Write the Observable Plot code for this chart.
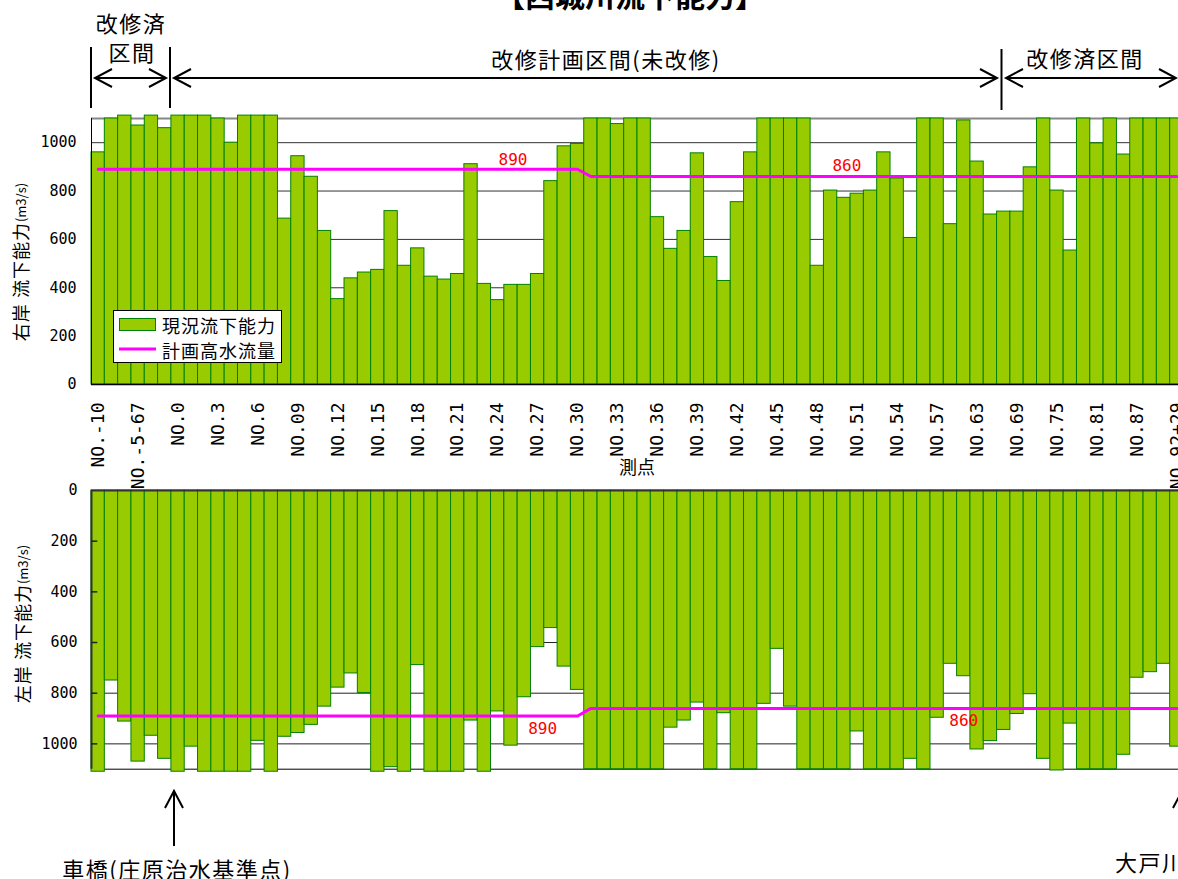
<!DOCTYPE html>
<html>
<head>
<meta charset="utf-8">
<script src="https://cdn.jsdelivr.net/npm/d3@7"></script>
<script src="https://cdn.jsdelivr.net/npm/@observablehq/plot@0.6"></script>
<style>
  html, body { margin: 0; padding: 0; background: #fff; overflow: hidden; }
  #page { position: relative; width: 1178px; height: 879px; overflow: hidden; background: #fff; }
  #page > svg { position: absolute; left: 0; max-width: none !important; overflow: visible; }
</style>
</head>
<body>
<div id="page"></div>
<script>
// Survey stations along the river (upstream order, left to right)
const stations = [
  "NO.-10","NO.-9","NO.-8","NO.-5-67","NO.-4","NO.-2",
  "NO.0","NO.1","NO.2","NO.3","NO.4","NO.5","NO.6","NO.07","NO.08","NO.09",
  "NO.10","NO.11","NO.12","NO.13","NO.14","NO.15","NO.16","NO.17","NO.18","NO.19",
  "NO.20","NO.21","NO.22","NO.23","NO.24","NO.25","NO.26","NO.27","NO.28","NO.29",
  "NO.30","NO.31","NO.32","NO.33","NO.34","NO.35","NO.36","NO.37","NO.38","NO.39",
  "NO.40","NO.41","NO.42","NO.43","NO.44","NO.45","NO.46","NO.47","NO.48","NO.49",
  "NO.50","NO.51","NO.52","NO.53","NO.54","NO.55","NO.56","NO.57",
  "NO.59","NO.61","NO.63","NO.65","NO.67","NO.69","NO.71","NO.73","NO.75","NO.77",
  "NO.79","NO.81","NO.83","NO.85","NO.87","NO.89","NO.91","NO.92+29"
];

// Stations that get a tick label on the horizontal axis
const labeledStations = [
  "NO.-10","NO.-5-67","NO.0","NO.3","NO.6","NO.09","NO.12","NO.15","NO.18","NO.21",
  "NO.24","NO.27","NO.30","NO.33","NO.36","NO.39","NO.42","NO.45","NO.48","NO.51",
  "NO.54","NO.57","NO.63","NO.69","NO.75","NO.81","NO.87","NO.92+29"
];

// Current flow capacity, right bank (m3/s)
const rightBank = [
  960, 1100, 1112, 1071, 1112, 1060, 1112, 1112, 1112, 1100,
  1000, 1112, 1112, 1112, 686, 944, 859, 635, 353, 439,
  463, 474, 717, 491, 563, 446, 434, 457, 911, 416,
  349, 412, 412, 457, 841, 985, 995, 1100, 1100, 1077,
  1100, 1100, 692, 561, 635, 956, 527, 428, 754, 960,
  1100, 1100, 1100, 1100, 491, 802, 772, 789, 802, 960,
  852, 606, 1100, 1100, 663, 1092, 922, 703, 715, 715,
  898, 1100, 802, 554, 1100, 997, 1100, 951, 1100, 1100,
  1100, 1100
];

// Current flow capacity, left bank (m3/s)
const leftBank = [
  1110, 750, 912, 1070, 968, 1059, 1110, 1011, 1110, 1110,
  1110, 1110, 988, 1110, 972, 957, 925, 853, 778, 722,
  799, 1110, 1092, 1110, 689, 1110, 1110, 1110, 908, 1110,
  872, 1007, 816, 618, 543, 695, 787, 1100, 1100, 1100,
  1100, 1100, 1100, 936, 908, 837, 1100, 879, 1100, 1100,
  842, 625, 853, 1100, 1100, 1100, 1100, 951, 1100, 1100,
  1100, 1059, 1100, 897, 684, 733, 1022, 989, 945, 882,
  804, 1059, 1105, 920, 1100, 1100, 1100, 1043, 739, 717,
  684, 1011
];

// Design high-water discharge (m3/s)
const planFlow = [
  890, 890, 890, 890, 890, 890, 890, 890, 890, 890,
  890, 890, 890, 890, 890, 890, 890, 890, 890, 890,
  890, 890, 890, 890, 890, 890, 890, 890, 890, 890,
  890, 890, 890, 890, 890, 890, 890, 860, 860, 860,
  860, 860, 860, 860, 860, 860, 860, 860, 860, 860,
  860, 860, 860, 860, 860, 860, 860, 860, 860, 860,
  860, 860, 860, 860, 860, 860, 860, 860, 860, 860,
  860, 860, 860, 860, 860, 860, 860, 860, 860, 860,
  860, 860
];

const yTicks = [0, 200, 400, 600, 800, 1000];
const gridTicks = [200, 400, 600, 800, 1000];

const rows = stations.map((s, i) => ({
  station: s, right: rightBank[i], left: leftBank[i], plan: planFlow[i]
}));
const planAt = (i) => ({station: stations[i], value: planFlow[i]});

const BAR_FILL = "#99cc00";
const BAR_STROKE = "#008000";
const PLAN_COLOR = "#ff00ff";
const NUM_FONT = "'DejaVu Sans Mono', monospace";
const JP_FONT = "'Noto Sans CJK JP', sans-serif";

const WIDTH = 1184, ML = 91, MR = 1;
const bandW = (WIDTH - ML - MR) / stations.length;
const plain = d => String(d);

const page = document.getElementById("page");

// ---- Right bank panel ----
const rightChart = Plot.plot({
  width: WIDTH, height: 480,
  marginLeft: ML, marginRight: MR, marginTop: 118, marginBottom: 96,
  style: {fontFamily: NUM_FONT, color: "#000", background: "transparent", overflow: "visible"},
  x: {type: "band", domain: stations, padding: 0, round: false},
  y: {domain: [0, 1100]},
  marks: [
    Plot.ruleY(gridTicks, {stroke: "#333", strokeWidth: 1}),
    Plot.ruleY([1100], {stroke: "#888", strokeWidth: 2}),
    Plot.barY(rows, {x: "station", y: "right", fill: BAR_FILL, stroke: BAR_STROKE, strokeWidth: 1}),
    Plot.line(rows, {x: "station", y: "plan", stroke: PLAN_COLOR, strokeWidth: 3}),
    Plot.text([planAt(31)], {x: "station", y: "value", text: d => String(d.value), fill: "#ff0000", fontSize: 16, dx: 2, dy: -9}),
    Plot.text([planAt(56)], {x: "station", y: "value", text: d => String(d.value), fill: "#ff0000", fontSize: 16, dx: 3, dy: -11}),
    Plot.ruleY([0], {stroke: "#000", strokeWidth: 1.5}),
    Plot.ruleX([stations[0]], {dx: -bandW / 2, stroke: "#000", strokeWidth: 1}),
    Plot.axisX({ticks: labeledStations, tickRotate: -90, tickSize: 0, tickPadding: 18, fontSize: 18, label: null}),
    Plot.axisY({ticks: yTicks, tickFormat: plain, tickSize: 0, tickPadding: 15, fontSize: 15, label: null})
  ]
});
rightChart.style.top = "0px";
page.appendChild(rightChart);

// ---- Left bank panel (hanging bars) ----
const leftChart = Plot.plot({
  width: WIDTH, height: 399,
  marginLeft: ML, marginRight: MR, marginTop: 10, marginBottom: 110.3,
  style: {fontFamily: NUM_FONT, color: "#000", background: "transparent", overflow: "visible"},
  x: {type: "band", domain: stations, padding: 0, round: false, axis: null},
  y: {domain: [0, 1100], reverse: true},
  marks: [
    Plot.ruleY(gridTicks, {stroke: "#222", strokeWidth: 1}),
    Plot.ruleY([1100], {stroke: "#000", strokeWidth: 1}),
    Plot.barY(rows, {x: "station", y: "left", fill: BAR_FILL, stroke: BAR_STROKE, strokeWidth: 1}),
    Plot.line(rows, {x: "station", y: "plan", stroke: PLAN_COLOR, strokeWidth: 3}),
    Plot.text([planAt(33)], {x: "station", y: "value", text: d => String(d.value), fill: "#ff0000", fontSize: 16, dx: 5, dy: 13}),
    Plot.text([planAt(65)], {x: "station", y: "value", text: d => String(d.value), fill: "#ff0000", fontSize: 16, dx: 0, dy: 12}),
    Plot.ruleY([0], {stroke: "#333", strokeWidth: 2}),
    Plot.ruleX([stations[0]], {dx: -bandW / 2, stroke: "#333", strokeWidth: 2}),
    Plot.tickY(gridTicks, {x: () => stations[0], insetRight: 7, stroke: "#222", strokeWidth: 1.5}),
    Plot.axisY({ticks: yTicks, tickFormat: plain, tickSize: 0, tickPadding: 14, fontSize: 15, label: null})
  ]
});
leftChart.style.top = "480px";
page.appendChild(leftChart);

// ---- Titles, section arrows, legend and notes ----
const ov = d3.select(page).append("svg")
  .attr("width", 1178).attr("height", 879)
  .style("top", "0px")
  .style("font-family", JP_FONT);

ov.append("text").attr("x", 630).attr("y", 7).attr("text-anchor", "middle")
  .attr("font-size", 30).attr("font-weight", "bold").text("【西城川流下能力】");

const ink = ov.append("g").attr("stroke", "#000").attr("stroke-width", 2).attr("fill", "none");
const vline = (x, y1, y2) => ink.append("path").attr("d", `M${x},${y1}V${y2}`);
const harrow = (x1, x2, y) => ink.append("path").attr("d",
  `M${x1},${y}H${x2}M${x1 + 17},${y - 9}L${x1},${y}L${x1 + 17},${y + 9}M${x2 - 17},${y - 9}L${x2},${y}L${x2 - 17},${y + 9}`);
const varrow = (x, yTip, yEnd) => ink.append("path").attr("d",
  `M${x},${yTip}V${yEnd}M${x - 9},${yTip + 17}L${x},${yTip}L${x + 9},${yTip + 17}`);

vline(91, 47, 108);
vline(170, 47, 108);
vline(1001.5, 49, 110);
harrow(95, 166, 78);
harrow(174, 997, 78);
harrow(1006, 1176, 78);
varrow(174, 791, 846);
varrow(1182, 791, 846);

const label = (x, y, txt, size, anchor = "middle", spacing = 1.5) =>
  ov.append("text").attr("x", x).attr("y", y).attr("text-anchor", anchor)
    .attr("dominant-baseline", "central").attr("font-size", size)
    .attr("letter-spacing", spacing).text(txt);

label(131, 22, "改修済", 22);
label(132, 51, "区間", 22);
label(606, 58, "改修計画区間(未改修)", 22);
label(1085, 57, "改修済区間", 22);
label(177, 868, "車橋(庄原治水基準点)", 22);
label(1115, 861, "大戸川", 22, "start");
label(637, 466, "測点", 18, "middle", 0);

// vertical axis titles
const axisTitle = (x, y, bank) => {
  const t = ov.append("text").attr("transform", `translate(${x},${y}) rotate(-90)`)
    .attr("text-anchor", "middle").attr("dominant-baseline", "central")
    .attr("font-size", 18).attr("letter-spacing", 1);
  t.append("tspan").text(bank + " 流下能力");
  t.append("tspan").attr("font-size", 13).attr("letter-spacing", 0).text("(m3/s)");
};
axisTitle(20, 262, "右岸");
axisTitle(22, 624, "左岸");

// legend
const lg = ov.append("g");
lg.append("rect").attr("x", 113.5).attr("y", 310.5).attr("width", 168).attr("height", 52)
  .attr("fill", "#fff").attr("stroke", "#000").attr("stroke-width", 1);
lg.append("rect").attr("x", 119.5).attr("y", 318.5).attr("width", 36).attr("height", 12)
  .attr("fill", BAR_FILL).attr("stroke", BAR_STROKE).attr("stroke-width", 1);
lg.append("path").attr("d", "M119,349H156").attr("stroke", PLAN_COLOR).attr("stroke-width", 3);
lg.append("text").attr("x", 162).attr("y", 325).attr("dominant-baseline", "central")
  .attr("font-size", 18).attr("letter-spacing", 1).text("現況流下能力");
lg.append("text").attr("x", 162).attr("y", 350).attr("dominant-baseline", "central")
  .attr("font-size", 18).attr("letter-spacing", 1).text("計画高水流量");
</script>
</body>
</html>
